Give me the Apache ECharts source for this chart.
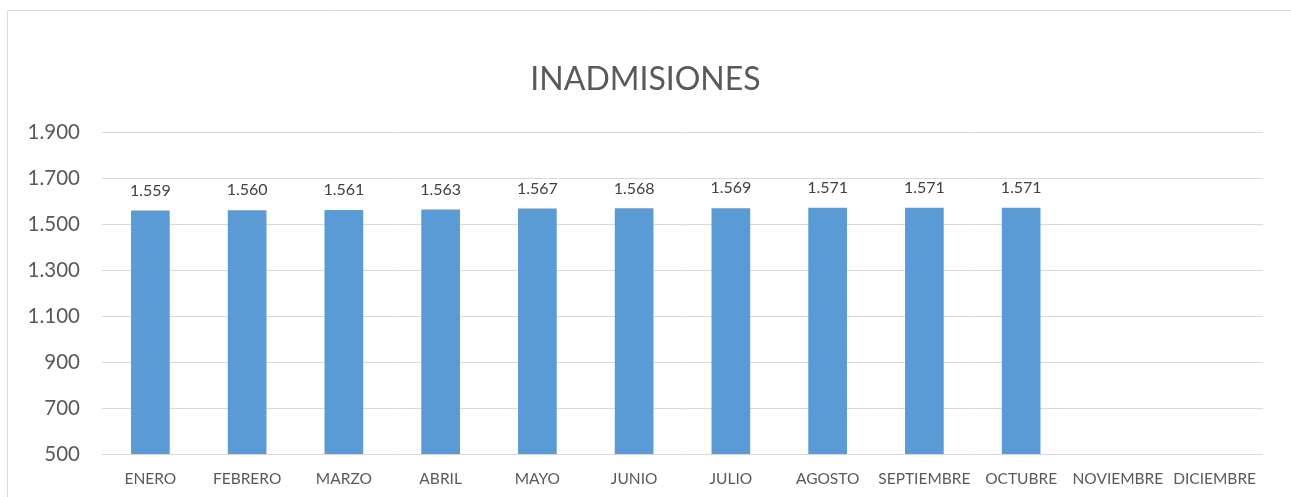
<!DOCTYPE html>
<html>
<head>
<meta charset="utf-8">
<script src="https://cdn.jsdelivr.net/npm/echarts@6/dist/echarts.min.js"></script>
<style>
html, body { margin: 0; padding: 0; background: #fff; }
#chart { width: 1291px; height: 497px; }
</style>
</head>
<body>
<div id="chart"></div>
<script>
var meses = ['ENERO', 'FEBRERO', 'MARZO', 'ABRIL', 'MAYO', 'JUNIO', 'JULIO', 'AGOSTO', 'SEPTIEMBRE', 'OCTUBRE', 'NOVIEMBRE', 'DICIEMBRE'];
var inadmisiones = [1559, 1560, 1561, 1563, 1567, 1568, 1569, 1571, 1571, 1571, null, null];

// separador de miles con punto
function miles(v) {
	return String(v).replace(/\B(?=(\d{3})+(?!\d))/g, '.');
}

var chart = echarts.init(document.getElementById('chart'));
var fuente = 'Lato, "Noto Sans", sans-serif';

var option = {
	backgroundColor: '#fff',
	animation: false,
	title: {
		text: 'INADMISIONES',
		left: 'center',
		top: 59,
		textStyle: {
			fontFamily: fuente,
			fontSize: 32,
			fontWeight: 'normal',
			color: '#595959'
		}
	},
	graphic: [{
		type: 'rect',
		shape: { x: 7.5, y: 10.5, width: 1300, height: 500 },
		style: { fill: 'none', stroke: '#d9d9d9', lineWidth: 1 },
		silent: true
	}],
	grid: {
		left: 102,
		right: 28,
		top: 132,
		bottom: 43
	},
	xAxis: {
		type: 'category',
		data: meses,
		axisLine: { show: false },
		axisTick: { show: false },
		axisLabel: {
			interval: 0,
			margin: 17,
			fontFamily: fuente,
			fontSize: 15.5,
			color: '#595959'
		}
	},
	yAxis: {
		type: 'value',
		min: 500,
		max: 1900,
		interval: 200,
		axisLine: { show: false },
		axisTick: { show: false },
		splitLine: { lineStyle: { color: '#d9d9d9', width: 1 } },
		axisLabel: {
			margin: 22,
			fontFamily: fuente,
			fontSize: 20.5,
			color: '#595959',
			formatter: function (v) { return miles(v); }
		}
	},
	series: [{
		name: 'INADMISIONES',
		type: 'bar',
		data: inadmisiones,
		barWidth: '40%',
		itemStyle: { color: '#5B9BD5' },
		label: {
			show: true,
			position: 'top',
			distance: 12,
			fontFamily: fuente,
			fontSize: 16,
			color: '#404040',
			formatter: function (p) { return miles(p.value); }
		}
	}]
};

chart.setOption(option);
</script>
</body>
</html>
